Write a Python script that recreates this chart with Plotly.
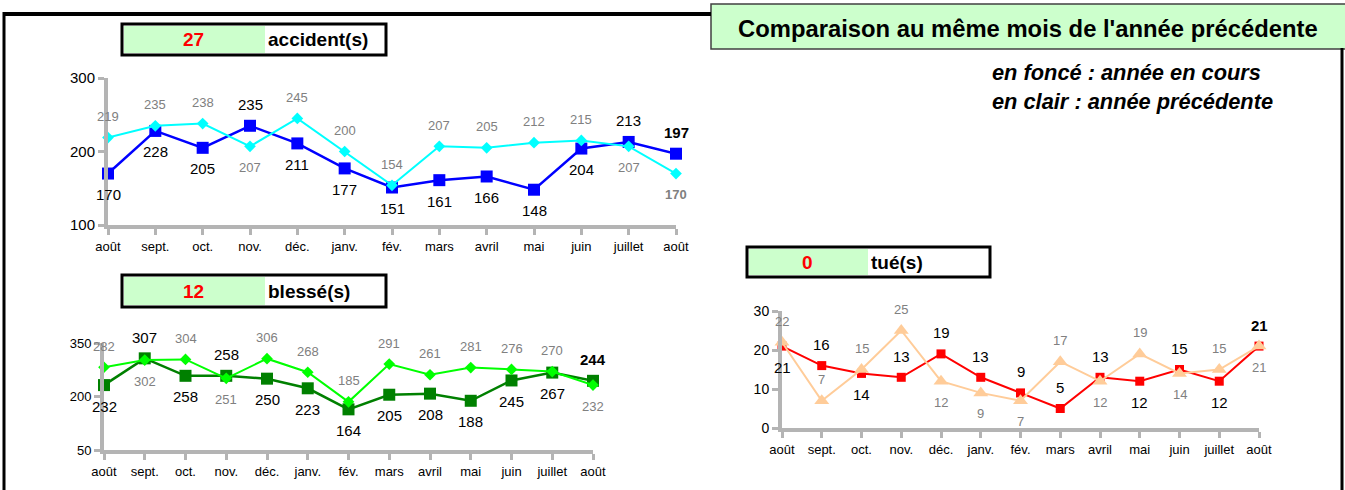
import plotly.graph_objects as go

W, H = 1345, 490

months = ["août", "sept.", "oct.", "nov.", "déc.", "janv.", "fév.", "mars",
          "avril", "mai", "juin", "juillet", "août"]

acc_cur = [170, 228, 205, 235, 211, 177, 151, 161, 166, 148, 204, 213, 197]
acc_prev = [219, 235, 238, 207, 245, 200, 154, 207, 205, 212, 215, 207, 170]
bl_cur = [232, 307, 258, 258, 250, 223, 164, 205, 208, 188, 245, 267, 244]
bl_prev = [282, 302, 304, 251, 306, 268, 185, 291, 261, 281, 276, 270, 232]
tue_cur = [21, 16, 14, 13, 19, 13, 9, 5, 13, 12, 15, 12, 21]
tue_prev = [22, 7, 15, 25, 12, 9, 7, 17, 12, 19, 14, 15, 21]

totals = {"acc": 27, "bl": 12, "tue": 0}

# label placement: a = above, b = below
acc_cur_pos = ["b", "b", "b", "a", "b", "b", "b", "b", "b", "b", "b", "a", "a"]
acc_prev_pos = ["a", "a", "a", "b", "a", "a", "a", "a", "a", "a", "a", "b", "b"]
bl_cur_pos = ["b", "a", "b", "a", "b", "b", "b", "b", "b", "b", "b", "b", "a"]
bl_prev_pos = ["a", "b", "a", "b", "a", "a", "a", "a", "a", "a", "a", "a", "b"]
tue_cur_pos = ["b", "a", "b", "a", "a", "a", "a", "a", "a", "b", "a", "b", "a"]
tue_prev_pos = ["a", "a", "a", "a", "b", "b", "b", "a", "b", "a", "b", "a", "b"]


def px(x):
    return x / W


def py(y):
    return 1 - y / H


FONT = "Arial, Liberation Sans, sans-serif"
AXC = "#B4B4B4"
GRAY = "#808080"

fig = go.Figure()
xs = list(range(len(months)))

series = [
    ("x", "y", acc_cur, "#0000FF", "square", 12, 2.5),
    ("x", "y", acc_prev, "#00FFFF", "diamond", 9, 2),
    ("x2", "y2", bl_cur, "#008000", "square", 12, 2.5),
    ("x2", "y2", bl_prev, "#00FF00", "diamond", 9, 2),
    ("x3", "y3", tue_cur, "#FF0000", "square", 9, 2),
    ("x3", "y3", tue_prev, "#FFCC99", "triangle-up", 13, 2),
]
for xa, ya, vals, col, sym, sz, lw in series:
    fig.add_trace(go.Scatter(
        x=xs, y=vals, xaxis=xa, yaxis=ya, mode="lines+markers",
        line=dict(color=col, width=lw),
        marker=dict(symbol=sym, size=sz, color=col, line=dict(width=0)),
        cliponaxis=False, showlegend=False, hoverinfo="skip"))

annotations = []


def add_labels(xa, ya, vals, pos, color, size, bold_last):
    n = len(vals)
    for i, (v, p) in enumerate(zip(vals, pos)):
        txt = str(v)
        if bold_last and i == n - 1:
            txt = "<b>%s</b>" % txt
        annotations.append(dict(
            x=i, y=v, xref=xa, yref=ya, text=txt, showarrow=False,
            yshift=21 if p == "a" else -21,
            font=dict(family=FONT, size=size, color=color)))


add_labels("x", "y", acc_cur, acc_cur_pos, "black", 15, True)
add_labels("x", "y", acc_prev, acc_prev_pos, GRAY, 13, True)
add_labels("x2", "y2", bl_cur, bl_cur_pos, "black", 15, True)
add_labels("x2", "y2", bl_prev, bl_prev_pos, GRAY, 13, False)
add_labels("x3", "y3", tue_cur, tue_cur_pos, "black", 15, True)
add_labels("x3", "y3", tue_prev, tue_prev_pos, GRAY, 13, False)

shapes = []


def rect(x0, y0, x1, y1, fill, lc, lw):
    shapes.append(dict(type="rect", xref="paper", yref="paper",
                       x0=px(x0), x1=px(x1), y0=py(y1), y1=py(y0),
                       fillcolor=fill, line=dict(color=lc, width=lw), layer="below"))


def line(x0, y0, x1, y1, lc, lw):
    shapes.append(dict(type="line", xref="paper", yref="paper",
                       x0=px(x0), x1=px(x1), y0=py(y0), y1=py(y1),
                       line=dict(color=lc, width=lw)))


# outer frame
line(4, 14, 711, 14, "black", 4)
line(4, 12, 4, 492, "black", 3)
line(1342, 48, 1342, 492, "black", 3)
# comparison title box
rect(711, 4, 1350, 49, "#CCFFCC", "#404040", 1.5)


# header boxes
def header(x0, y0, x1, y1, xg, num, label):
    rect(x0, y0, x1, y1, "white", "black", 3)
    shapes.append(dict(type="rect", xref="paper", yref="paper",
                       x0=px(x0 + 2), x1=px(xg), y0=py(y1 - 2), y1=py(y0 + 2),
                       fillcolor="#CCFFCC", line=dict(width=0), layer="below"))
    ym = (y0 + y1) / 2
    annotations.append(dict(x=px((x0 + xg) / 2), y=py(ym), xref="paper", yref="paper",
                            text="<b>%d</b>" % num, showarrow=False,
                            xanchor="center", yanchor="middle",
                            font=dict(family=FONT, size=19, color="#FF0000")))
    annotations.append(dict(x=px(xg + 1), y=py(ym), xref="paper", yref="paper",
                            text="<b>%s</b>" % label, showarrow=False,
                            xanchor="left", yanchor="middle",
                            font=dict(family=FONT, size=19, color="black")))


header(122, 24, 386, 55, 265, totals["acc"], "accident(s)")
header(122, 275, 386, 307, 265, totals["bl"], "blessé(s)")
header(747, 247, 990, 277, 868, totals["tue"], "tué(s)")

annotations.append(dict(x=px(1028), y=py(28), xref="paper", yref="paper",
                        text="<b>Comparaison au même mois de l'année précédente</b>",
                        showarrow=False, xanchor="center", yanchor="middle",
                        font=dict(family=FONT, size=23.8, color="black")))
annotations.append(dict(x=px(990), y=py(72), xref="paper", yref="paper",
                        text="<b><i>en foncé : année en cours</i></b>",
                        showarrow=False, xanchor="left", yanchor="middle",
                        font=dict(family=FONT, size=21.8, color="black")))
annotations.append(dict(x=px(990), y=py(101), xref="paper", yref="paper",
                        text="<b><i>en clair : année précédente</i></b>",
                        showarrow=False, xanchor="left", yanchor="middle",
                        font=dict(family=FONT, size=21.8, color="black")))


def xaxis(dom, anchor):
    return dict(domain=dom, anchor=anchor, range=[0, len(months) - 1],
                tickmode="array", tickvals=xs, ticktext=months,
                showline=True, linecolor=AXC, linewidth=4,
                ticks="outside", ticklen=6, tickwidth=3, tickcolor=AXC,
                showgrid=False, zeroline=False, fixedrange=True, automargin=False,
                tickfont=dict(family=FONT, size=13, color="black"))


def yaxis(dom, anchor, rng, dt, fs):
    return dict(domain=dom, anchor=anchor, range=rng, dtick=dt, tick0=rng[0],
                showline=True, linecolor=AXC, linewidth=4,
                ticks="outside", ticklen=6, tickwidth=3, tickcolor=AXC,
                showgrid=False, zeroline=False, fixedrange=True, automargin=False,
                tickfont=dict(family=FONT, size=fs, color="black"))


fig.update_layout(
    width=W, height=H, margin=dict(l=0, r=0, t=0, b=0, pad=0, autoexpand=False),
    paper_bgcolor="white", plot_bgcolor="rgba(0,0,0,0)",
    xaxis=xaxis([px(108), px(676)], "y"),
    yaxis=yaxis([py(225), py(78)], "x", [100, 300], 100, 15),
    xaxis2=xaxis([px(104), px(593)], "y2"),
    yaxis2=yaxis([py(450), py(343)], "x2", [50, 350], 150, 13),
    xaxis3=xaxis([px(782), px(1259)], "y3"),
    yaxis3=yaxis([py(428), py(311)], "x3", [0, 30], 10, 14),
    shapes=shapes, annotations=annotations,
)

fig.write_html("out.html", config={"displayModeBar": False},
               post_script="document.body.style.margin='0px';"
                           "document.body.style.overflow='hidden';")
